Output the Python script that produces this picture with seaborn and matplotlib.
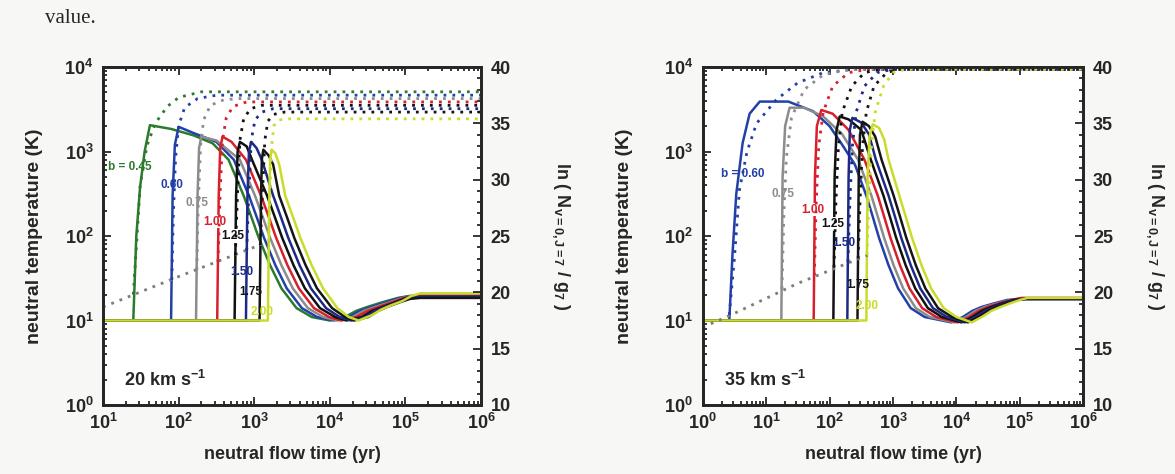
import numpy as np
import pandas as pd
import matplotlib
matplotlib.use("Agg")
import matplotlib.pyplot as plt
import seaborn as sns
from matplotlib.ticker import NullFormatter, MultipleLocator, LogLocator

sns.set_style("ticks")
plt.rcParams['font.family'] = ['Liberation Sans', 'DejaVu Sans']
plt.rcParams['font.weight'] = 'bold'
plt.rcParams['mathtext.fontset'] = 'custom'
plt.rcParams['mathtext.rm'] = 'Liberation Sans:bold'
plt.rcParams['mathtext.it'] = 'Liberation Sans:bold'
plt.rcParams['mathtext.bf'] = 'Liberation Sans:bold'

# ---------------- data (log10 of time in yr; temperature in K; ln N/g on right axis)
b_left = ["0.45", "0.60", "0.75", "1.00", "1.25", "1.50", "1.75", "2.00"]
b_right = ["0.60", "0.75", "1.00", "1.25", "1.50", "1.75", "2.00"]
colors = {"0.45": "#2b7a2e", "0.60": "#2340a8", "0.75": "#8c8c8c", "1.00": "#d8202c",
          "1.25": "#111111", "1.50": "#1c2a86", "1.75": "#151515", "2.00": "#c9dc2c"}

# left panel (20 km/s): temperature curves
L045_lt = [1.0, 1.40, 1.44, 1.49, 1.55, 1.62, 1.9, 2.2, 2.45, 2.66, 2.86, 2.96, 3.06, 3.21, 3.36, 3.56, 3.76, 4.0, 4.2, 4.35, 4.5, 4.7, 4.9, 5.05, 6.0]
L045_T = [10, 10, 100, 380, 1000, 2050, 1850, 1550, 1250, 800, 300, 170, 95, 45, 24, 14, 11, 10, 11, 13, 14.5, 16.5, 18.5, 19.5, 19.5]
L060_lt = [1.0, 1.90, 1.92, 1.95, 2.0, 2.2, 2.5, 2.73, 2.93, 3.03, 3.13, 3.28, 3.43, 3.63, 3.83, 4.05, 4.25, 4.4, 4.55, 4.75, 4.93, 5.08, 6.0]
L060_T = [10, 10, 300, 1200, 1960, 1650, 1300, 800, 300, 170, 95, 45, 24, 14, 11, 10, 11, 13, 14.5, 16.5, 18.5, 19.5, 19.5]
L075_lt = [1.0, 2.23, 2.25, 2.27, 2.30, 2.5, 2.81, 3.01, 3.11, 3.21, 3.36, 3.51, 3.71, 3.91, 4.10, 4.3, 4.45, 4.6, 4.8, 4.96, 5.1, 6.0]
L075_T = [10, 10, 300, 1100, 1500, 1350, 800, 300, 170, 95, 45, 24, 14, 11, 10, 11, 13, 14.5, 16.5, 18.5, 19.5, 19.5]
L100_lt = [1.0, 2.51, 2.53, 2.55, 2.58, 2.7, 2.89, 3.09, 3.19, 3.29, 3.44, 3.59, 3.79, 3.99, 4.15, 4.35, 4.5, 4.65, 4.83, 4.98, 5.12, 6.0]
L100_T = [10, 10, 300, 1100, 1500, 1300, 800, 300, 170, 95, 45, 24, 14, 11, 10, 11, 13, 14.5, 16.5, 18.5, 19.5, 19.5]
L125_lt = [1.0, 2.74, 2.76, 2.78, 2.81, 2.9, 2.97, 3.17, 3.27, 3.37, 3.52, 3.67, 3.87, 4.07, 4.22, 4.42, 4.56, 4.7, 4.87, 5.01, 5.15, 6.0]
L125_T = [10, 10, 300, 1000, 1300, 1150, 800, 300, 170, 95, 45, 24, 14, 11, 10, 11, 13, 14.5, 16.5, 18.5, 19, 19]
L150_lt = [1.0, 2.89, 2.91, 2.93, 2.96, 3.03, 3.10, 3.25, 3.35, 3.45, 3.60, 3.75, 3.95, 4.13, 4.28, 4.47, 4.6, 4.73, 4.9, 5.04, 5.17, 6.0]
L150_T = [10, 10, 300, 1000, 1300, 1100, 800, 300, 170, 95, 45, 24, 14, 11, 10, 11, 13, 14.5, 16.5, 18.5, 19, 19]
L175_lt = [1.0, 3.07, 3.09, 3.10, 3.12, 3.19, 3.25, 3.33, 3.43, 3.53, 3.68, 3.83, 4.03, 4.2, 4.32, 4.51, 4.64, 4.76, 4.93, 5.06, 5.19, 6.0]
L175_T = [10, 10, 300, 800, 1050, 900, 700, 300, 170, 95, 45, 24, 14, 11, 10, 11, 13, 14.5, 16.5, 18, 18.5, 18.5]
L200_lt = [1.0, 3.18, 3.20, 3.21, 3.23, 3.28, 3.33, 3.41, 3.51, 3.61, 3.76, 3.91, 4.1, 4.25, 4.38, 4.55, 4.68, 4.8, 4.96, 5.08, 5.2, 6.0]
L200_T = [10, 10, 300, 800, 1050, 950, 700, 300, 170, 95, 45, 24, 14, 11, 10, 11.5, 13.5, 15, 17, 19.5, 21, 21]

# left panel: ln(N/g) curves (dotted)
L045_nt = [1.40, 1.45, 1.49, 1.58, 1.69, 1.85, 2.0, 2.3, 6.0]
L045_N = [19.8, 25, 29.4, 33, 35.0, 36.5, 37.3, 37.8, 37.8]
L060_nt = [1.91, 1.93, 1.96, 2.0, 2.08, 2.25, 2.5, 6.0]
L060_N = [21.1, 27, 32, 34.8, 36.4, 37.2, 37.5, 37.5]
L075_nt = [2.24, 2.26, 2.29, 2.33, 2.42, 2.6, 2.8, 6.0]
L075_N = [22.0, 28, 33, 35.3, 36.6, 37.1, 37.2, 37.2]
L100_nt = [2.52, 2.55, 2.58, 2.63, 2.72, 2.9, 6.0]
L100_N = [22.7, 29, 33.5, 35.5, 36.5, 36.9, 36.9]
L125_nt = [2.75, 2.78, 2.81, 2.86, 2.95, 3.1, 6.0]
L125_N = [23.3, 29, 33.5, 35.4, 36.3, 36.6, 36.6]
L150_nt = [2.90, 2.93, 2.96, 3.01, 3.1, 3.25, 6.0]
L150_N = [23.7, 29, 33.5, 35.3, 36.0, 36.3, 36.3]
L175_nt = [3.08, 3.11, 3.14, 3.18, 3.26, 3.4, 6.0]
L175_N = [24.2, 29, 33.5, 35.2, 35.8, 36.0, 36.0]
L200_nt = [3.19, 3.21, 3.23, 3.26, 3.32, 3.45, 6.0]
L200_N = [24.5, 29, 33, 34.8, 35.3, 35.4, 35.4]
L_pre_nt = [1.0, 2.0, 3.19]
L_pre_N = [18.7, 21.4, 24.5]

# right panel (35 km/s): temperature curves
R060_lt = [0.0, 0.42, 0.47, 0.53, 0.63, 0.74, 0.90, 1.35, 1.74, 2.0, 2.2, 2.4, 2.58, 2.68, 2.78, 2.93, 3.08, 3.28, 3.5, 3.92, 4.1, 4.25, 4.4, 4.6, 4.8, 5.0, 6.0]
R060_T = [10, 10, 60, 316, 1260, 2800, 3900, 3900, 3000, 2000, 1200, 700, 300, 170, 95, 45, 24, 14, 11, 9.5, 11, 13, 14.5, 16, 17.5, 18, 18]
R075_lt = [0.0, 1.24, 1.26, 1.30, 1.37, 1.6, 1.9, 2.2, 2.45, 2.66, 2.76, 2.86, 3.01, 3.16, 3.36, 3.58, 3.97, 4.15, 4.3, 4.45, 4.65, 4.85, 5.0, 6.0]
R075_T = [10, 10, 500, 2000, 3300, 3300, 2600, 1600, 800, 300, 170, 95, 45, 24, 14, 11, 9.5, 11, 13, 14.5, 16, 17.5, 18, 18]
R100_lt = [0.0, 1.75, 1.77, 1.80, 1.87, 2.05, 2.3, 2.55, 2.76, 2.86, 2.96, 3.11, 3.26, 3.46, 3.68, 4.02, 4.2, 4.35, 4.5, 4.68, 4.87, 5.02, 6.0]
R100_T = [10, 10, 500, 2000, 3100, 2800, 1800, 800, 300, 170, 95, 45, 24, 14, 11, 9.5, 11, 13, 14.5, 16, 17.5, 18.5, 18.5]
R125_lt = [0.0, 2.06, 2.08, 2.11, 2.16, 2.3, 2.5, 2.65, 2.85, 2.95, 3.05, 3.2, 3.35, 3.55, 3.77, 4.08, 4.25, 4.4, 4.55, 4.72, 4.9, 5.05, 6.0]
R125_T = [10, 10, 500, 1800, 2600, 2400, 1800, 800, 300, 170, 95, 45, 24, 14, 11, 9.5, 11, 13, 14.5, 16, 17.5, 18, 18]
R150_lt = [0.0, 2.28, 2.30, 2.32, 2.36, 2.5, 2.62, 2.73, 2.93, 3.03, 3.13, 3.28, 3.43, 3.63, 3.85, 4.13, 4.3, 4.45, 4.6, 4.76, 4.93, 5.07, 6.0]
R150_T = [10, 10, 500, 1800, 2500, 2200, 1600, 800, 300, 170, 95, 45, 24, 14, 11, 9.5, 11, 13, 14.5, 16, 17.5, 18, 18]
R175_lt = [0.0, 2.44, 2.46, 2.48, 2.52, 2.62, 2.72, 2.82, 3.01, 3.11, 3.21, 3.36, 3.51, 3.71, 3.93, 4.18, 4.35, 4.5, 4.64, 4.8, 4.96, 5.1, 6.0]
R175_T = [10, 10, 500, 1600, 2250, 2000, 1500, 800, 300, 170, 95, 45, 24, 14, 11, 9.5, 11, 13, 14.5, 16, 17.5, 18, 18]
R200_lt = [0.0, 2.58, 2.60, 2.63, 2.68, 2.78, 2.86, 2.93, 3.10, 3.2, 3.3, 3.45, 3.6, 3.8, 4.0, 4.24, 4.4, 4.55, 4.7, 4.85, 5.0, 5.12, 6.0]
R200_T = [10, 10, 500, 1500, 2100, 1900, 1400, 800, 300, 170, 95, 45, 24, 14, 11, 9.5, 11, 13, 14.5, 16, 17.5, 18.5, 18.5]

# right panel: ln(N/g) curves (dotted)
R060_nt = [0.42, 0.5, 0.58, 0.7, 0.85, 1.16, 1.5, 1.9, 2.4, 6.0]
R060_N = [18.0, 23, 29.1, 32.5, 35.0, 37.1, 38.6, 39.5, 39.8, 39.8]
R075_nt = [1.25, 1.28, 1.32, 1.4, 1.6, 1.9, 2.3, 6.0]
R075_N = [20.3, 27, 32, 35.5, 38.0, 39.3, 39.8, 39.8]
R100_nt = [1.76, 1.79, 1.83, 1.9, 2.05, 2.3, 2.6, 6.0]
R100_N = [21.5, 28, 33, 36, 38.3, 39.5, 39.8, 39.8]
R125_nt = [2.07, 2.1, 2.14, 2.2, 2.35, 2.55, 2.8, 6.0]
R125_N = [22.2, 28, 33, 36, 38.3, 39.5, 39.8, 39.8]
R150_nt = [2.29, 2.32, 2.36, 2.42, 2.55, 2.75, 3.0, 6.0]
R150_N = [22.7, 28, 33, 36, 38.3, 39.5, 39.8, 39.8]
R175_nt = [2.45, 2.48, 2.52, 2.58, 2.7, 2.9, 3.1, 6.0]
R175_N = [23.0, 28, 33, 36, 38.3, 39.5, 39.8, 39.8]
R200_nt = [2.59, 2.62, 2.66, 2.72, 2.85, 3.0, 3.2, 6.0]
R200_N = [23.3, 28, 33, 36, 38.3, 39.5, 39.8, 39.8]
R_pre_nt = [0.0, 0.45, 1.5, 2.6]
R_pre_N = [16.9, 18.0, 20.8, 23.3]

T_ticks = [1, 10, 100, 1000, 10000]
T_ticklabels = [r"$10^{0}$", r"$10^{1}$", r"$10^{2}$", r"$10^{3}$", r"$10^{4}$"]
N_ticks = [10, 15, 20, 25, 30, 35, 40]
L_xticks_exp = [1, 2, 3, 4, 5, 6]
R_xticks_exp = [0, 1, 2, 3, 4, 5, 6]

L_T = {"0.45": (L045_lt, L045_T), "0.60": (L060_lt, L060_T), "0.75": (L075_lt, L075_T),
       "1.00": (L100_lt, L100_T), "1.25": (L125_lt, L125_T), "1.50": (L150_lt, L150_T),
       "1.75": (L175_lt, L175_T), "2.00": (L200_lt, L200_T)}
L_N = {"0.45": (L045_nt, L045_N), "0.60": (L060_nt, L060_N), "0.75": (L075_nt, L075_N),
       "1.00": (L100_nt, L100_N), "1.25": (L125_nt, L125_N), "1.50": (L150_nt, L150_N),
       "1.75": (L175_nt, L175_N), "2.00": (L200_nt, L200_N)}
R_T = {"0.60": (R060_lt, R060_T), "0.75": (R075_lt, R075_T), "1.00": (R100_lt, R100_T),
       "1.25": (R125_lt, R125_T), "1.50": (R150_lt, R150_T), "1.75": (R175_lt, R175_T),
       "2.00": (R200_lt, R200_T)}
R_N = {"0.60": (R060_nt, R060_N), "0.75": (R075_nt, R075_N), "1.00": (R100_nt, R100_N),
       "1.25": (R125_nt, R125_N), "1.50": (R150_nt, R150_N), "1.75": (R175_nt, R175_N),
       "2.00": (R200_nt, R200_N)}


def frame(d, order):
    rows = []
    for b in order:
        lt, v = d[b]
        for x, y in zip(lt, v):
            rows.append((b, 10.0 ** x, y))
    return pd.DataFrame(rows, columns=["b", "t", "v"])


BG = "#f7f7f5"
fig = plt.figure(figsize=(11.75, 4.74), dpi=100, facecolor=BG)
fig.text(0.038, 0.962, "value.", fontsize=15, family="Liberation Serif", weight="normal",
         va="center", ha="left")

panels = [
    dict(rect=[0.0877, 0.1456, 0.3217, 0.713], T=L_T, N=L_N, order=b_left, pre=(L_pre_nt, L_pre_N),
         xlim=(1e1, 1e6), xexp=L_xticks_exp, title="20 km s$^{-1}$", ylpad=15, rlpad=44,
         labels=[("b = 0.45", 1.36, 660, "0.45"), ("0.60", 1.91, 405, "0.60"), ("0.75", 2.24, 245, "0.75"),
                 ("1.00", 2.48, 148, "1.00"), ("1.25", 2.71, 100, "1.25"), ("1.50", 2.83, 37, "1.50"),
                 ("1.75", 2.95, 22, "1.75"), ("2.00", 3.10, 12.6, "2.00")]),
    dict(rect=[0.598, 0.1456, 0.324, 0.713], T=R_T, N=R_N, order=b_right, pre=(R_pre_nt, R_pre_N),
         xlim=(1e0, 1e6), xexp=R_xticks_exp, title="35 km s$^{-1}$", ylpad=22, rlpad=38,
         labels=[("b = 0.60", 0.63, 540, "0.60"), ("0.75", 1.27, 310, "0.75"), ("1.00", 1.73, 205, "1.00"),
                 ("1.25", 2.05, 138, "1.25"), ("1.50", 2.23, 83, "1.50"), ("1.75", 2.45, 26, "1.75"),
                 ("2.00", 2.60, 15, "2.00")]),
]

for p in panels:
    ax = fig.add_axes(p["rect"])
    ax.set_facecolor("white")
    ax2 = ax.twinx()
    dT = frame(p["T"], p["order"])
    dN = frame(p["N"], p["order"])
    pal = {b: colors[b] for b in p["order"]}
    sns.lineplot(data=dT, x="t", y="v", hue="b", hue_order=p["order"], palette=pal, ax=ax,
                 legend=False, sort=False, estimator=None, lw=1.8)
    pre = pd.DataFrame({"t": [10.0 ** x for x in p["pre"][0]], "v": p["pre"][1]})
    sns.lineplot(data=pre, x="t", y="v", ax=ax2, color="#7d7d70", sort=False, estimator=None,
                 lw=2.0, linestyle=(0, (1, 2.2)))
    sns.lineplot(data=dN, x="t", y="v", hue="b", hue_order=p["order"], palette=pal, ax=ax2,
                 legend=False, sort=False, estimator=None, lw=2.0, linestyle=(0, (1, 2.2)))

    ax.set_xscale("log"); ax.set_yscale("log")
    ax.set_xlim(*p["xlim"]); ax.set_ylim(1, 1e4)
    ax2.set_ylim(10, 40)
    ax.set_yticks(T_ticks, labels=T_ticklabels)
    ax.set_xticks([10.0 ** e for e in p["xexp"]], labels=[r"$10^{%d}$" % e for e in p["xexp"]])
    ax.xaxis.set_minor_locator(LogLocator(base=10, subs=np.arange(2, 10), numticks=20))
    ax.yaxis.set_minor_locator(LogLocator(base=10, subs=np.arange(2, 10), numticks=20))
    ax.xaxis.set_minor_formatter(NullFormatter()); ax.yaxis.set_minor_formatter(NullFormatter())
    ax2.set_yticks(N_ticks, labels=[str(v) for v in N_ticks])
    ax2.yaxis.set_minor_locator(MultipleLocator(1))
    ax.tick_params(which="both", direction="in", top=True, right=False, width=1.3, labelsize=13)
    ax.tick_params(which="major", length=6)
    ax.tick_params(which="minor", length=3)
    ax.tick_params(axis="x", pad=6)
    ax.tick_params(axis="y", pad=7)
    ax2.tick_params(which="both", direction="in", width=1.3, labelsize=13, pad=7)
    ax2.tick_params(which="major", length=6)
    ax2.tick_params(which="minor", length=3)
    for a in (ax, ax2):
        for s in a.spines.values():
            s.set_linewidth(2.0)
            s.set_visible(True)
    ax.set_xlabel("neutral flow time (yr)", fontsize=13, weight="bold", labelpad=9)
    ax.set_ylabel("neutral temperature (K)", fontsize=14, weight="bold", labelpad=p["ylpad"])
    ax2.set_ylabel(r"ln ( N$_{v=0,J=7}$ / g$_{7}$ )", fontsize=13, weight="bold", rotation=270,
                   labelpad=p["rlpad"])
    ax.text(0.055, 0.075, p["title"], transform=ax.transAxes, fontsize=13, weight="bold",
            ha="left", va="center")
    for txt, lx, ty, b in p["labels"]:
        kw = {}
        if b in ("1.00", "1.25"):
            kw["bbox"] = dict(facecolor="white", edgecolor="none", pad=0.5)
        ax.text(10.0 ** lx, ty, txt, color=colors[b], fontsize=8.5, weight="bold",
                ha="center", va="center", zorder=5, **kw)

fig.savefig("out.png", dpi=100, facecolor=BG)
